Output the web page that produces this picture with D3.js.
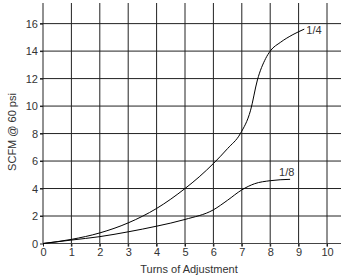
<!DOCTYPE html>
<meta charset="utf-8">
<style>
  body { margin: 0; background: #fff; }
  svg text { font-family: "Liberation Sans", Arial, sans-serif; fill: #333; }
</style>
<body>
<svg id="chart" width="343" height="279"></svg>
<script src="https://d3js.org/d3.v7.min.js"></script>
<script>
// data
var quarterX = [0, 1, 2, 3, 4, 5, 5.5, 6, 6.5, 6.95, 7.31, 7.55, 7.84, 8, 8.37, 8.8, 9.2];
var quarterY = [0, 0.3, 0.77, 1.5, 2.55, 4, 4.85, 5.82, 6.91, 8, 9.7, 11.9, 13.46, 14, 14.65, 15.2, 15.6];
var eighthX = [0, 1, 2, 3, 4, 5, 6, 6.5, 7, 7.45, 8, 8.7];
var eighthY = [0, 0.25, 0.5, 0.85, 1.26, 1.75, 2.45, 3.15, 3.9, 4.35, 4.57, 4.67];
var xTicks = [0, 1, 2, 3, 4, 5, 6, 7, 8, 9, 10];
var yTicks = [0, 2, 4, 6, 8, 10, 12, 14, 16];
var seriesLabels = ["1/4", "1/8"];

var svg = d3.select("#chart");
var plotLeft = 43, plotRight = 341, plotTop = 3, plotBottom = 243.5;

var x = d3.scaleLinear().domain([0, 10.5]).range([plotLeft, plotLeft + 28.4 * 10.5]);
var y = d3.scaleLinear().domain([0, 17.5]).range([plotBottom, plotTop]);

// grid
svg.append("g").selectAll("line")
  .data(xTicks.filter(function(d){ return d > 0; }))
  .enter().append("line")
    .attr("x1", function(d){ return x(d); })
    .attr("x2", function(d){ return x(d); })
    .attr("y1", plotTop).attr("y2", plotBottom + 3)
    .attr("stroke", "#222").attr("stroke-width", 1);

svg.append("g").selectAll("line")
  .data(yTicks.filter(function(d){ return d > 0; }))
  .enter().append("line")
    .attr("x1", plotLeft - 3).attr("x2", plotRight)
    .attr("y1", function(d){ return y(d); })
    .attr("y2", function(d){ return y(d); })
    .attr("stroke", "#222").attr("stroke-width", 1);

// axes
var xAxis = svg.append("g")
  .attr("transform", "translate(0," + plotBottom + ")")
  .call(d3.axisBottom(x).tickValues(xTicks).tickSizeInner(3).tickSizeOuter(0).tickPadding(2));
xAxis.select(".domain").attr("d", "M" + plotLeft + ",0H" + plotRight).attr("stroke", "#444");

var yAxis = svg.append("g")
  .attr("transform", "translate(" + plotLeft + ",0)")
  .call(d3.axisLeft(y).tickValues(yTicks).tickSizeInner(3).tickSizeOuter(0).tickPadding(2));
yAxis.select(".domain").attr("d", "M0," + plotTop + "V" + plotBottom).attr("stroke", "#222");

svg.selectAll(".tick line").attr("stroke", "#222");
svg.selectAll(".tick text").style("font-size", "11px").attr("fill", "#333");

// curves
var line = d3.line()
  .x(function(d){ return x(d[0]); })
  .y(function(d){ return y(d[1]); })
  .curve(d3.curveMonotoneX);

var quarter = d3.zip(quarterX, quarterY);
var eighth = d3.zip(eighthX, eighthY);

[quarter, eighth].forEach(function(pts, i){
  svg.append("path")
    .attr("d", line(pts))
    .attr("fill", "none")
    .attr("stroke", "#000")
    .attr("stroke-width", 1);
  var last = pts[pts.length - 1];
  // 1/4 sits right of the curve end, 1/8 sits above it
  svg.append("text")
    .attr("x", x(last[0]) + (i == 0 ? 2 : -11))
    .attr("y", y(last[1]) + (i == 0 ? 5 : -3))
    .style("font-size", "11px")
    .text(seriesLabels[i]);
});

// axis titles
svg.append("text")
  .attr("x", (plotLeft + x(10)) / 2 + 4)
  .attr("y", 273)
  .attr("text-anchor", "middle")
  .style("font-size", "11px")
  .text("Turns of Adjustment");

svg.append("text")
  .attr("transform", "translate(16," + 132 + ") rotate(-90)")
  .attr("text-anchor", "middle")
  .style("font-size", "11px")
  .text("SCFM @ 60 psi");
</script>
</body>
